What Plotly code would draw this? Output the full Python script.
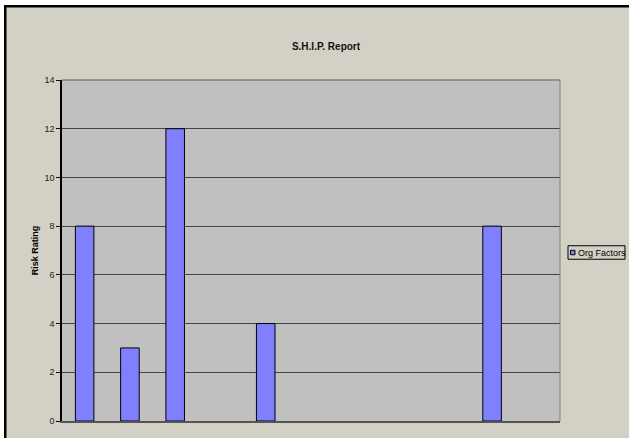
import plotly.graph_objects as go

categories = [str(i) for i in range(1, 12)]
org_factors = [8, 3, 12, None, 4, None, None, None, None, 8, None]
y_ticks = [0, 2, 4, 6, 8, 10, 12, 14]

W, H = 629, 438
L, R, T, B = 62, 560, 80, 421.5
FRAME_BG = "#D3D1C6"
FONT = "Arial, Liberation Sans, sans-serif"

def xp(px):
    return (px - L) / (R - L)

def yp(py):
    return (B - py) / (B - T)

fig = go.Figure()
fig.add_trace(go.Bar(
    x=categories, y=org_factors, name="Org Factors",
    marker=dict(color="#8080FF", line=dict(color="#000000", width=1)),
    showlegend=False,
))

shapes = [
    # white outer strip + black frame border (top & left)
    dict(type="rect", xref="paper", yref="paper", x0=xp(-5), x1=xp(W + 5), y0=yp(-5), y1=yp(5),
         fillcolor="white", line_width=0, layer="above"),
    dict(type="rect", xref="paper", yref="paper", x0=xp(-5), x1=xp(4), y0=yp(-5), y1=yp(H + 5),
         fillcolor="white", line_width=0, layer="above"),
    dict(type="rect", xref="paper", yref="paper", x0=xp(4), x1=xp(W + 5), y0=yp(5), y1=yp(7.5),
         fillcolor="black", line_width=0, layer="above"),
    dict(type="rect", xref="paper", yref="paper", x0=xp(4), x1=xp(6.5), y0=yp(5), y1=yp(H + 5),
         fillcolor="black", line_width=0, layer="above"),
    # right border of plot area
    dict(type="line", xref="paper", yref="paper", x0=1, x1=1, y0=0, y1=1,
         line=dict(color="#808080", width=1), layer="above"),
    # top border of plot area
    dict(type="line", xref="paper", yref="paper", x0=0, x1=1, y0=1, y1=1,
         line=dict(color="#808080", width=1.5), layer="above"),
    # legend box
    dict(type="rect", xref="paper", yref="paper", x0=xp(568), x1=xp(625), y0=yp(246), y1=yp(259.5),
         fillcolor=FRAME_BG, line=dict(color="black", width=1), layer="above"),
    dict(type="rect", xref="paper", yref="paper", x0=xp(570.5), x1=xp(575), y0=yp(250.5), y1=yp(255),
         fillcolor="#8080FF", line=dict(color="black", width=1), layer="above"),
]

fig.update_layout(
    width=W, height=H,
    margin=dict(l=L, r=W - R, t=T, b=H - B, pad=0),
    paper_bgcolor=FRAME_BG,
    plot_bgcolor="#C0C0C0",
    font=dict(family=FONT, size=9, color="#000000"),
    title=dict(text="<b>S.H.I.P. Report</b>", x=326 / W, xanchor="center",
               y=1 - 46 / H, yanchor="middle", font=dict(size=10, family=FONT, color="#111")),
    bargap=0.59,
    shapes=shapes,
    annotations=[dict(text="Org Factors", xref="paper", yref="paper", x=xp(576), y=yp(253),
                      xanchor="left", yanchor="middle", showarrow=False,
                      font=dict(size=9, family=FONT, color="#000"))],
    showlegend=False,
)
fig.update_xaxes(showticklabels=False, ticks="", showgrid=False, showline=True,
                 linecolor="#555555", linewidth=1.5, range=[-0.5, 10.5], fixedrange=True)
fig.update_yaxes(range=[0, 14], tickvals=y_ticks, ticks="outside", ticklen=4, tickcolor="#000",
                 showline=True, linecolor="#000", linewidth=1.5, showgrid=True,
                 gridcolor="#444444", gridwidth=1, zeroline=False,
                 tickfont=dict(size=9, family=FONT, color="#222"),
                 title=dict(text="<b>Risk Rating</b>", font=dict(size=9, family=FONT), standoff=4))

fig.write_html("out.html")
